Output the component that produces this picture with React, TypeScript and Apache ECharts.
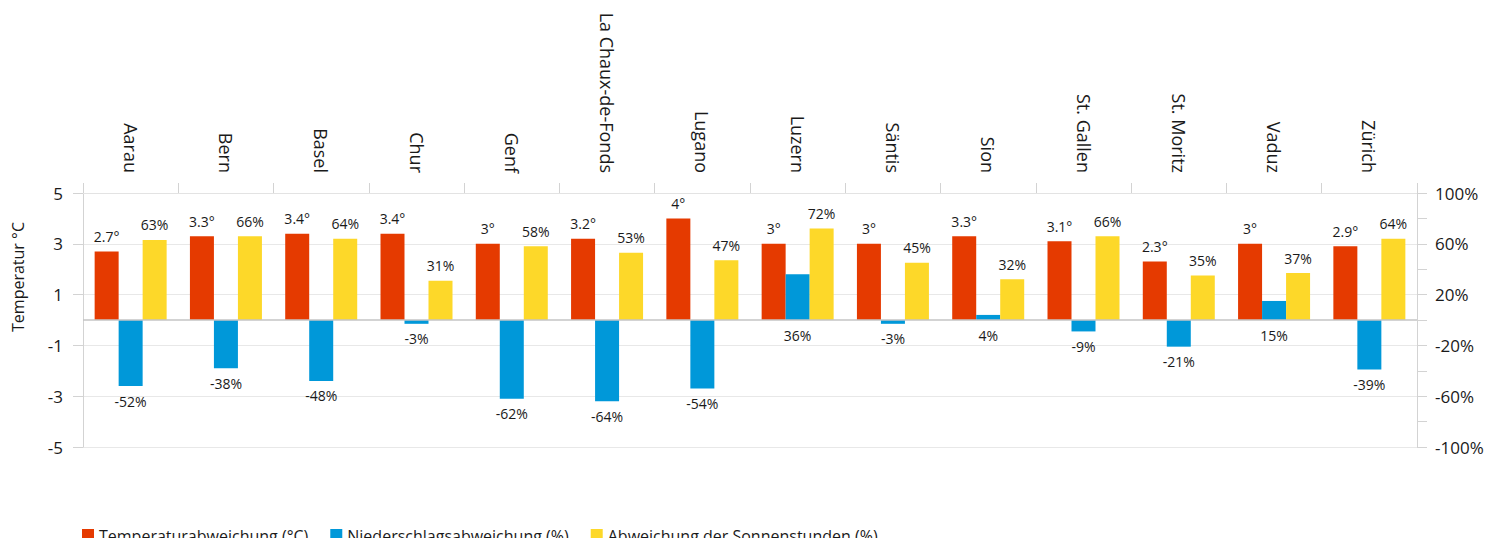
import React, { useEffect, useRef } from "react";
import * as echarts from "echarts";

const categories = [
  "Aarau", "Bern", "Basel", "Chur", "Genf", "La Chaux-de-Fonds", "Lugano",
  "Luzern", "Säntis", "Sion", "St. Gallen", "St. Moritz", "Vaduz", "Zürich",
];
const temperature = [2.7, 3.3, 3.4, 3.4, 3, 3.2, 4, 3, 3, 3.3, 3.1, 2.3, 3, 2.9];
const precipitation = [-52, -38, -48, -3, -62, -64, -54, 36, -3, 4, -9, -21, 15, -39];
const sunshine = [63, 66, 64, 31, 58, 53, 47, 72, 45, 32, 66, 35, 37, 64];

const leftTicks = [-5, -3, -1, 1, 3, 5];
const rightTicks = [-100, -60, -20, 20, 60, 100];

const FONT = "Open Sans";

export default function App() {
  const ref = useRef<HTMLDivElement>(null);
  useEffect(() => {
    if (!ref.current) return;
    const chart = echarts.init(ref.current, undefined, { renderer: "svg" });
    const labelStyle = { fontFamily: FONT, fontSize: 14, color: "#1a1a1a" };
    chart.setOption({
      animation: false,
      textStyle: { fontFamily: FONT },
      grid: { left: 83, right: 87, top: 193, bottom: 99, containLabel: false },
      legend: {
        left: 82,
        top: 528,
        padding: 0,
        itemWidth: 12,
        itemHeight: 14,
        itemGap: 22,
        icon: "rect",
        textStyle: { fontFamily: FONT, fontSize: 16, color: "#1a1a1a" },
        data: ["Temperaturabweichung (°C)", "Niederschlagsabweichung (%)", "Abweichung der Sonnenstunden (%)"],
      },
      graphic: [
        {
          type: "text",
          x: 18,
          y: 277,
          rotation: Math.PI / 2,
          style: {
            text: "Temperatur °C",
            fontFamily: FONT,
            fontSize: 16,
            fill: "#1a1a1a",
            align: "center",
            verticalAlign: "middle",
          },
        },
      ],
      xAxis: {
        type: "category",
        position: "top",
        data: categories,
        axisLine: { show: true, onZero: false, lineStyle: { color: "#e3e3e3" } },
        axisTick: { show: true, interval: 0, length: 10, lineStyle: { color: "#d3d3d3" } },
        axisLabel: {
          interval: 0,
          rotate: 90,
          margin: 20,
          fontFamily: FONT,
          fontSize: 18,
          color: "#1a1a1a",
        },
        splitLine: { show: false },
      },
      yAxis: [
        {
          type: "value",
          min: -5,
          max: 5,
          interval: 1,
          axisLine: { show: true, lineStyle: { color: "#d3d3d3" } },
          axisTick: { show: true, length: 10, lineStyle: { color: "#d3d3d3" }, customValues: leftTicks },
          axisLabel: {
            margin: 20,
            fontFamily: FONT,
            fontSize: 17,
            color: "#1a1a1a",
            customValues: leftTicks,
          },
          splitLine: { show: true, lineStyle: { color: "#e8e8e8" } },
        },
        {
          type: "value",
          min: -100,
          max: 100,
          interval: 20,
          position: "right",
          axisLine: { show: true, lineStyle: { color: "#d3d3d3" } },
          axisTick: { show: true, length: 10, lineStyle: { color: "#d3d3d3" } },
          axisLabel: {
            margin: 18,
            fontFamily: FONT,
            fontSize: 17,
            color: "#1a1a1a",
            customValues: rightTicks,
            formatter: (v: number) => `${v}%`,
          },
          splitLine: { show: false },
        },
      ],
      series: [
        {
          name: "Temperaturabweichung (°C)",
          type: "bar",
          yAxisIndex: 0,
          data: temperature,
          barWidth: 24,
          barGap: "0%",
          itemStyle: { color: "#e53a00" },
          label: {
            show: true,
            position: "top",
            distance: 8,
            ...labelStyle,
            formatter: (p: any) => `${p.value}°`,
          },
          markLine: {
            silent: true,
            symbol: "none",
            label: { show: false },
            lineStyle: { color: "#c4c4c4", type: "solid", width: 1.5 },
            data: [{ yAxis: 0 }],
          },
        },
        {
          name: "Niederschlagsabweichung (%)",
          type: "bar",
          yAxisIndex: 1,
          data: precipitation,
          barWidth: 24,
          barGap: "0%",
          itemStyle: { color: "#0098d9" },
          label: {
            show: true,
            position: "bottom",
            distance: 8,
            ...labelStyle,
            formatter: (p: any) => `${p.value}%`,
          },
        },
        {
          name: "Abweichung der Sonnenstunden (%)",
          type: "bar",
          yAxisIndex: 1,
          data: sunshine,
          barWidth: 24,
          barGap: "0%",
          itemStyle: { color: "#fdd829" },
          label: {
            show: true,
            position: "top",
            distance: 8,
            ...labelStyle,
            formatter: (p: any) => `${p.value}%`,
          },
        },
      ],
    });
    return () => chart.dispose();
  }, []);
  return <div ref={ref} style={{ width: 1504, height: 546, margin: -8 }} />;
}
